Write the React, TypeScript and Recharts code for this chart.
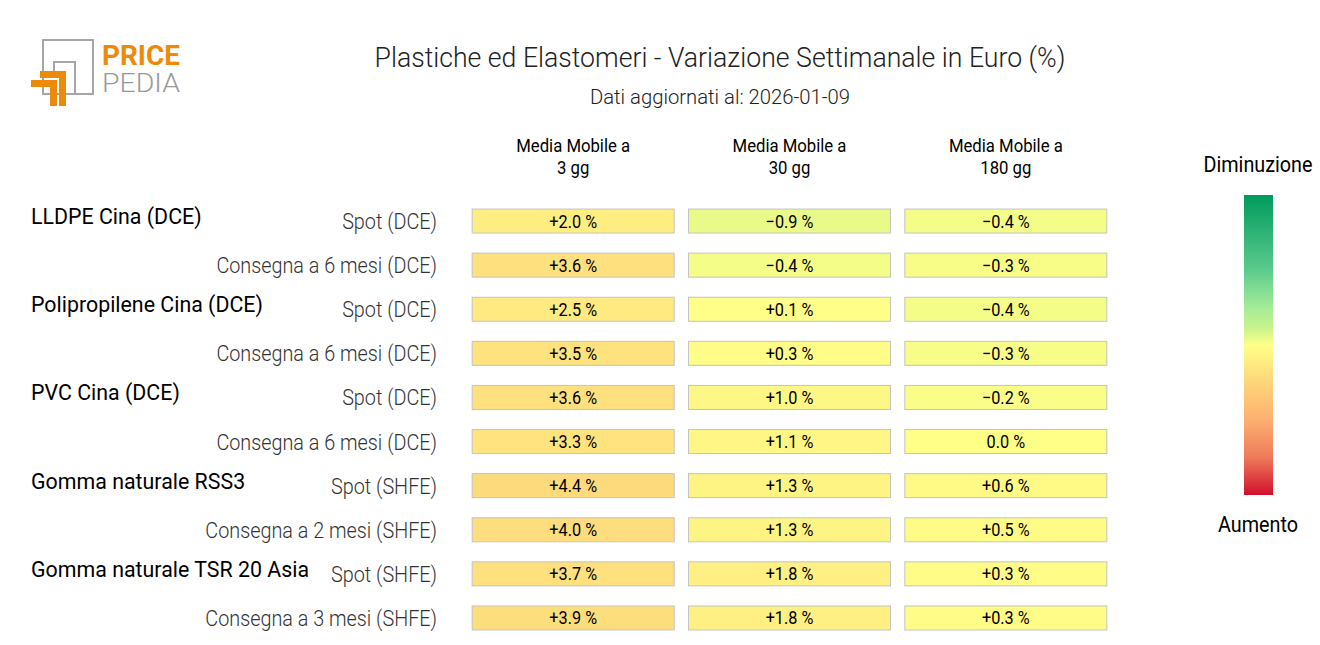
import { ScatterChart, Scatter, XAxis, YAxis } from 'recharts';

// Row labels
const GROUPS = [
  'LLDPE Cina (DCE)',
  'Polipropilene Cina (DCE)',
  'PVC Cina (DCE)',
  'Gomma naturale RSS3',
  'Gomma naturale TSR 20 Asia',
];
const SUB_LABELS = [
  'Spot (DCE)',
  'Consegna a 6 mesi (DCE)',
  'Spot (DCE)',
  'Consegna a 6 mesi (DCE)',
  'Spot (DCE)',
  'Consegna a 6 mesi (DCE)',
  'Spot (SHFE)',
  'Consegna a 2 mesi (SHFE)',
  'Spot (SHFE)',
  'Consegna a 3 mesi (SHFE)',
];
const COLUMNS = [
  ['Media Mobile a', '3 gg'],
  ['Media Mobile a', '30 gg'],
  ['Media Mobile a', '180 gg'],
];

// Weekly change (%) per moving-average window
const MA_3 = [2.0, 3.6, 2.5, 3.5, 3.6, 3.3, 4.4, 4.0, 3.7, 3.9];
const MA_30 = [-0.9, -0.4, 0.1, 0.3, 1.0, 1.1, 1.3, 1.3, 1.8, 1.8];
const MA_180 = [-0.4, -0.3, -0.4, -0.3, -0.2, 0.0, 0.6, 0.5, 0.3, 0.3];

const SERIES = [MA_3, MA_30, MA_180];

// colour scale: green = decrease, red = increase
const COLOR_STOPS: [number, string][] = [
  [-20, '#009a5e'],
  [-10, '#5ccb8c'],
  [-5, '#a3ec98'],
  [-2, '#cdf48b'],
  [0, '#ffff88'],
  [5, '#fdd57a'],
  [10, '#fdb070'],
  [15, '#ee7a5a'],
  [20, '#d0102b'],
];

const hex = (c: string) => [1, 3, 5].map((i) => parseInt(c.slice(i, i + 2), 16));

function colorFor(v: number) {
  const s = COLOR_STOPS;
  if (v <= s[0][0]) return s[0][1];
  if (v >= s[s.length - 1][0]) return s[s.length - 1][1];
  for (let i = 0; i < s.length - 1; i++) {
    const [v0, c0] = s[i];
    const [v1, c1] = s[i + 1];
    if (v >= v0 && v <= v1) {
      const t = (v - v0) / (v1 - v0);
      const a = hex(c0);
      const b = hex(c1);
      const m = a.map((x, k) => Math.round(x + (b[k] - x) * t));
      return `rgb(${m[0]},${m[1]},${m[2]})`;
    }
  }
  return '#ffff88';
}

const fmt = (v: number) => {
  if (Math.abs(v) < 0.05) return '0.0 %';
  return (v > 0 ? '+' : '\u2212') + Math.abs(v).toFixed(1) + ' %';
};

const FONT = 'Roboto, sans-serif';

// squeezed text to imitate a condensed face
function CText({ x, y, anchor = 'middle', size = 18, weight = 400, fill = '#111', sq = 0.88, children }: any) {
  return (
    <text
      transform={`translate(${x},${y}) scale(${sq},1)`}
      textAnchor={anchor}
      fontFamily={FONT}
      fontSize={size}
      fontWeight={weight}
      fill={fill}
    >
      {children}
    </text>
  );
}

const data = SERIES.flatMap((vals, col) =>
  vals.map((v, row) => ({ col, row, value: v }))
);

const CellShape = (props: any) => {
  const { cx, cy, payload } = props;
  const w = 202;
  const h = 24;
  return (
    <g>
      <rect
        x={cx - w / 2}
        y={cy - h / 2}
        width={w}
        height={h}
        fill={colorFor(payload.value)}
        stroke="#c4c4c4"
        strokeWidth={1}
      />
      <CText x={cx} y={cy + 6.5} size={18.5} fill="#000">
        {fmt(payload.value)}
      </CText>
    </g>
  );
};

const RowTick = (props: any) => {
  const { x, y, payload } = props;
  const i = payload.value;
  return (
    <g>
      <CText x={x - 20} y={y + 8} anchor="end" size={22.5} weight={300} fill="#333">
        {SUB_LABELS[i]}
      </CText>
      {i % 2 === 0 && (
        <CText x={31} y={y + 3} anchor="start" size={22.5} weight={400} fill="#000" sq={0.95}>
          {GROUPS[i / 2]}
        </CText>
      )}
    </g>
  );
};

const ColTick = (props: any) => {
  const { x, y, payload } = props;
  const [l1, l2] = COLUMNS[payload.value];
  return (
    <g>
      <CText x={x} y={y - 39} size={19} fill="#000">{l1}</CText>
      <CText x={x} y={y - 17} size={19} fill="#000">{l2}</CText>
    </g>
  );
};

function Logo() {
  const orange = '#ee8a0a';
  const gray = '#a6a6a6';
  return (
    <g>
      <rect x={43} y={40} width={50} height={54} fill="none" stroke={gray} strokeWidth={2} />
      <polyline points="54,72 54,62 75,62 75,94" fill="none" stroke={gray} strokeWidth={2} />
      <polygon points="40,71 66,71 66,106 59,106 59,78 40,78" fill={orange} />
      <polygon points="31,80 57,80 57,106 50,106 50,87 31,87" fill={orange} />
      <rect x={96} y={38} width={90} height={60} fill="#fff" />
      <text fontFamily={FONT}>
        <tspan x={102} y={65} fontSize={27} fontWeight={700} fill={orange} textLength={78} lengthAdjust="spacingAndGlyphs">PRICE</tspan>
        <tspan x={102} y={92} fontSize={26} fontWeight={300} fill="#999" textLength={78} lengthAdjust="spacingAndGlyphs">PEDIA</tspan>
      </text>
    </g>
  );
}

function ColorBar() {
  const lo = COLOR_STOPS[0][0];
  const hi = COLOR_STOPS[COLOR_STOPS.length - 1][0];
  return (
    <g>
      <defs>
        <linearGradient id="cbar" x1="0" y1="0" x2="0" y2="1">
          {COLOR_STOPS.map(([v, c]) => (
            <stop key={v} offset={`${((v - lo) / (hi - lo)) * 100}%`} stopColor={c} />
          ))}
        </linearGradient>
      </defs>
      <rect x={1244} y={195} width={29} height={300} fill="url(#cbar)" />
      <CText x={1258} y={172} size={22} weight={400} fill="#000" sq={0.9}>Diminuzione</CText>
      <CText x={1258} y={532} size={22} weight={400} fill="#000" sq={0.9}>Aumento</CText>
    </g>
  );
}

export default function App() {
  return (
    <div style={{ position: 'absolute', left: 0, top: 0, width: 1320, height: 645, background: '#fff' }}>
      <ScatterChart
        width={1320}
        height={645}
        margin={{ top: 129, right: 206, bottom: 5, left: 445 }}
      >
        <XAxis
          type="number"
          dataKey="col"
          orientation="top"
          domain={[-0.5, 2.5]}
          ticks={[0, 1, 2]}
          interval={0}
          height={70}
          axisLine={false}
          tickLine={false}
          tick={<ColTick />}
        />
        <YAxis
          type="number"
          dataKey="row"
          domain={[-0.5, 9.5]}
          reversed
          ticks={[0, 1, 2, 3, 4, 5, 6, 7, 8, 9]}
          interval={0}
          width={20}
          axisLine={false}
          tickLine={false}
          tick={<RowTick />}
        />
        <Scatter data={data} shape={<CellShape />} isAnimationActive={false} />
      </ScatterChart>
      <svg
        width={1320}
        height={645}
        style={{ position: 'absolute', left: 0, top: 0, pointerEvents: 'none' }}
      >
        <Logo />
        <text x={720} y={67} textAnchor="middle" fontFamily={FONT} fontSize={27} fontWeight={300} fill="#222" textLength={691} lengthAdjust="spacingAndGlyphs">
          Plastiche ed Elastomeri - Variazione Settimanale in Euro (%)
        </text>
        <text x={720} y={104} textAnchor="middle" fontFamily={FONT} fontSize={20} fontWeight={300} fill="#222" textLength={260} lengthAdjust="spacingAndGlyphs">
          Dati aggiornati al: 2026-01-09
        </text>
        <ColorBar />
      </svg>
    </div>
  );
}
